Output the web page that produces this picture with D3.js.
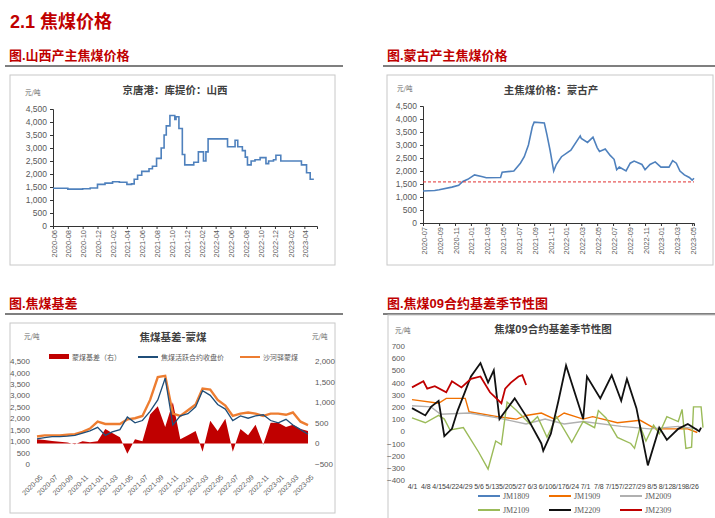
<!DOCTYPE html>
<html><head><meta charset="utf-8">
<script src="https://cdn.jsdelivr.net/npm/d3@7"></script>
<style>body{margin:0;background:#fff}svg{font-family:"Liberation Serif","Noto Sans CJK SC",serif}</style>
</head><body><svg id="c" width="715" height="518"></svg>
<script>
// chart 1: Shanxi price
var sxDates = ["2020-06-01","2020-08-01","2020-10-01","2020-11-01","2020-12-01","2021-01-01","2021-02-01","2021-03-01","2021-04-01","2021-04-20","2021-05-01","2021-05-15","2021-06-01","2021-07-01","2021-07-15","2021-08-01","2021-08-20","2021-09-01","2021-09-10","2021-09-25","2021-10-15","2021-10-20","2021-11-01","2021-11-15","2021-11-25","2022-01-01","2022-01-20","2022-02-10","2022-02-20","2022-03-01","2022-05-20","2022-06-20","2022-07-01","2022-07-20","2022-08-01","2022-08-10","2022-08-25","2022-09-10","2022-10-01","2022-10-25","2022-11-05","2022-11-25","2022-12-05","2022-12-25","2023-03-01","2023-03-20","2023-04-10","2023-04-25","2023-05-10"];
var sxValues = [1450,1420,1430,1460,1600,1650,1700,1680,1600,1620,1800,1950,2100,2200,2300,2600,3000,3500,3850,4250,4100,4200,3750,2750,2350,2450,2850,2500,2850,3350,3050,3300,3050,2900,2650,2350,2500,2550,2630,2400,2500,2550,2720,2500,2500,2350,2050,1800,1800];
// chart 2: Mongolia price
var mgDates = ["2020-07-01","2020-08-15","2020-09-01","2020-10-20","2020-11-15","2020-12-01","2020-12-20","2021-01-15","2021-02-15","2021-03-01","2021-04-25","2021-05-01","2021-06-15","2021-07-10","2021-07-25","2021-08-10","2021-08-25","2021-09-01","2021-10-10","2021-10-20","2021-11-01","2021-11-15","2021-11-25","2021-12-15","2022-01-20","2022-02-25","2022-03-01","2022-03-25","2022-04-15","2022-05-01","2022-05-10","2022-06-01","2022-06-20","2022-07-05","2022-07-15","2022-07-25","2022-08-20","2022-09-05","2022-09-20","2022-10-20","2022-11-01","2022-11-20","2022-12-10","2023-01-01","2023-02-01","2023-02-15","2023-03-01","2023-03-15","2023-04-01","2023-04-20","2023-05-01","2023-05-08"];
var mgValues = [1230,1250,1280,1380,1450,1600,1680,1850,1780,1740,1750,1950,2000,2300,2550,3000,3700,3880,3850,3400,2800,2000,2250,2550,2800,3350,3250,3100,3300,2900,2750,2850,2600,2450,2050,2150,2000,2300,2380,2250,2050,2250,2350,2150,2150,2400,2300,2000,1850,1750,1650,1720];
var mgRef = 1580;
// chart 3: basis
var bsMonths = ["2020-05","2020-06","2020-07","2020-08","2020-09","2020-10","2020-11","2020-12","2021-01","2021-02","2021-03","2021-04","2021-05","2021-06","2021-07","2021-08","2021-09","2021-10","2021-11","2021-12","2022-01","2022-02","2022-03","2022-04","2022-05","2022-06","2022-07","2022-08","2022-09","2022-10","2022-11","2022-12","2023-01","2023-02","2023-03","2023-04","2023-05"];
var shaheMg = [1200,1250,1250,1250,1280,1300,1400,1550,1850,1750,1750,1750,1950,2000,2100,2800,3800,3850,2200,2100,2350,2600,3300,3250,2800,2550,2100,2200,2250,2200,2100,2200,2200,2150,2250,1850,1700];
var futures = [1100,1150,1200,1200,1220,1250,1350,1450,1600,1250,1400,1500,2050,1800,1900,2300,2800,3750,1700,2100,2200,2500,3200,3000,2600,2400,1900,2100,2000,2100,2150,1900,1800,1950,1700,1500,1300];
var basis = [100,80,60,40,20,-20,50,30,50,350,250,150,-250,100,50,700,900,400,1000,100,200,300,-200,550,300,600,-200,350,200,450,-30,500,500,400,450,350,300];
// chart 4: seasonal basis of 09 contract
var seasonTicks = ["4/1","4/8","4/15","4/22","4/29","5/6","5/13","5/20","5/27","6/3","6/10","6/17","6/24","7/1","7/8","7/15","7/22","7/29","8/5","8/12","8/19","8/26"];
var jm1809 = [];
var jm1909 = [["4/1",260],["4/15",230],["4/19",270],["4/29",270],["5/1",160],["5/16",120],["5/26",100],["5/31",130],["6/8",150],["6/15",100],["6/20",150],["6/30",100],["7/5",120],["7/18",70],["7/30",90],["8/7",20],["8/24",20],["8/29",-10]];
var jm2009 = [["4/1",210],["4/11",200],["4/16",140],["5/1",150],["5/16",110],["5/31",60],["6/10",100],["6/20",60],["6/30",80],["7/20",40],["8/4",20],["8/19",40],["8/29",20]];
var jm2109 = [["4/1",110],["4/8",70],["4/15",130],["4/18",100],["4/21",10],["4/28",30],["5/6",-170],["5/11",-310],["5/15",-80],["5/18",-110],["5/21",240],["5/26",170],["6/2",60],["6/6",120],["6/11",-50],["6/16",120],["6/24",-90],["6/30",80],["7/6",30],["7/8",170],["7/12",110],["7/18",-50],["7/25",-100],["7/27",-140],["7/30",40],["8/2",-80],["8/6",50],["8/9",-20],["8/13",120],["8/19",80],["8/21",180],["8/23",-140],["8/26",-130],["8/27",200],["8/31",200],["9/1",30]];
var jm2209 = [["4/1",190],["4/8",130],["4/11",200],["4/15",250],["4/18",-40],["4/22",20],["4/25",170],["4/29",330],["5/2",450],["5/7",560],["5/11",400],["5/14",500],["5/17",100],["5/25",270],["6/1",100],["6/8",-100],["6/9",-160],["6/13",-20],["6/17",250],["6/21",540],["6/30",100],["7/2",450],["7/9",270],["7/15",460],["7/20",250],["7/23",430],["7/28",190],["8/3",-280],["8/9",30],["8/13",-70],["8/19",20],["8/24",60],["8/30",0],["8/31",30]];
var jm2309 = [["4/1",360],["4/7",410],["4/9",350],["4/13",370],["4/19",320],["4/22",410],["4/27",360],["5/2",430],["5/7",450],["5/12",320],["5/18",230],["5/20",350],["5/23",400],["5/27",450],["5/29",460],["5/31",380]];

var svg = d3.select("#c");
var red = "#C00000", fmt = d3.format(",");
var pd = d3.timeParse("%Y-%m-%d"), pm = d3.timeParse("%Y-%m"), ps = function(s){ return d3.timeParse("%Y/%m/%d")("2000/" + s); };

svg.append("text").attr("x", 10).attr("y", 28).attr("fill", red).attr("font-size", 18).attr("font-weight", "bold")
  .attr("font-family", "Liberation Sans,Noto Sans CJK SC").text("2.1 焦煤价格");

function header(x, y, w, t) {
  svg.append("text").attr("x", x + 4).attr("y", y).attr("fill", red).attr("font-size", 13).attr("font-weight", "bold")
    .attr("font-family", "Liberation Sans,Noto Sans CJK SC").text(t);
  svg.append("line").attr("x1", x).attr("x2", x + w).attr("y1", y + 6).attr("y2", y + 6).attr("stroke", "#000").attr("stroke-width", 1.2);
}
header(5, 60, 338, "图.山西产主焦煤价格");
header(383, 60, 332, "图.蒙古产主焦煤价格");
header(5, 308, 338, "图.焦煤基差");
header(383, 308, 332, "图.焦煤09合约基差季节性图");

function box(x, y, w, h) {
  svg.append("rect").attr("x", x).attr("y", y).attr("width", w).attr("height", h).attr("fill", "#fff").attr("stroke", "#c8c8c8");
}
function ctitle(x, y, t) {
  svg.append("text").attr("x", x).attr("y", y).attr("text-anchor", "middle").attr("font-size", 10.5).attr("font-weight", "bold")
    .attr("fill", "#404040").attr("font-family", "Noto Sans CJK SC").text(t);
}
function unit(x, y, anchor) {
  svg.append("text").attr("x", x).attr("y", y).attr("font-size", 6.5).attr("fill", "#666").attr("text-anchor", anchor || "start")
    .attr("font-family", "Noto Sans CJK SC").text("元/吨");
}
function styleAxis(g) {
  g.selectAll("text").attr("fill", "#595959").attr("font-size", 8.5);
  g.selectAll("path,line").attr("stroke", "#333");
}

// price chart helper
function priceChart(x0, x1, yTop, yBot, dates, vals, from, to, tickFrom, curve) {
  var x = d3.scaleTime().domain([pd(from), pd(to)]).range([x0, x1]);
  var y = d3.scaleLinear().domain([0, 4500]).range([yBot, yTop]);
  var ya = svg.append("g").attr("transform", "translate(" + x0 + ",0)")
    .call(d3.axisLeft(y).tickValues(d3.range(0, 4501, 500)).tickFormat(fmt).tickSize(3));
  styleAxis(ya);
  ya.selectAll("text").attr("font-family", "Liberation Sans");
  var ticks = d3.timeMonth.range(pd(tickFrom), pd(to), 2);
  var xa = svg.append("g").attr("transform", "translate(0," + yBot + ")")
    .call(d3.axisBottom(x).tickValues(ticks).tickFormat(d3.timeFormat("%Y-%m")).tickSize(3));
  styleAxis(xa);
  xa.selectAll("text").attr("transform", "rotate(-90)").attr("text-anchor", "end").attr("dx", "-4").attr("dy", "-3")
    .attr("font-size", 7.5).attr("font-family", "Liberation Sans");
  var pts = dates.map(function (d, i) { return [pd(d), vals[i]]; });
  svg.append("path").datum(pts).attr("fill", "none").attr("stroke", "#4F81BD").attr("stroke-width", 1.6)
    .attr("d", d3.line().x(function (d) { return x(d[0]); }).y(function (d) { return y(d[1]); }).curve(curve));
  return { x: x, y: y };
}

box(10, 75, 325, 190);
ctitle(175, 94, "京唐港：库提价：山西");
unit(25, 95);
priceChart(53, 317, 109, 226, sxDates, sxValues, "2020-06-01", "2023-05-23", "2020-06-01", d3.curveStepAfter);

box(387, 75, 326, 190);
ctitle(551, 94, "主焦煤价格：蒙古产");
unit(397, 91);
var c2 = priceChart(423, 694, 106, 223, mgDates, mgValues, "2020-07-01", "2023-05-08", "2020-07-01", d3.curveLinear);
svg.append("line").attr("x1", 423).attr("x2", 694).attr("y1", c2.y(mgRef)).attr("y2", c2.y(mgRef))
  .attr("stroke", "#E03030").attr("stroke-dasharray", "3,2").attr("stroke-width", 1);

// chart 3
box(10, 323, 325, 190);
ctitle(173, 341, "焦煤基差-蒙煤");
unit(24, 339); unit(312, 339);
var x3 = d3.scaleTime().domain([pm("2020-05"), pm("2023-05")]).range([37, 308]);
var yl = d3.scaleLinear().domain([0, 4500]).range([464, 361]);
var yr = d3.scaleLinear().domain([-500, 2000]).range([464, 361]);
var a3l = svg.append("g").attr("transform", "translate(33,0)").call(d3.axisLeft(yl).tickValues(d3.range(0, 4501, 500)).tickFormat(fmt).tickSize(0));
var a3r = svg.append("g").attr("transform", "translate(312,0)").call(d3.axisRight(yr).tickValues(d3.range(-500, 2001, 500)).tickFormat(fmt).tickSize(0));
[a3l, a3r].forEach(function (g) { styleAxis(g); g.select(".domain").remove(); g.selectAll("text").attr("font-size", 8); });
var xticks3 = bsMonths.filter(function (d, i) { return i % 2 == 0; }).map(pm);
var a3x = svg.append("g").attr("transform", "translate(0,472)").call(d3.axisBottom(x3).tickValues(xticks3).tickFormat(d3.timeFormat("%Y-%m")).tickSize(0));
styleAxis(a3x); a3x.select(".domain").remove();
a3x.selectAll("text").attr("transform", "rotate(-45)").attr("text-anchor", "end").attr("font-size", 7);
svg.append("path").datum(basis).attr("fill", red)
  .attr("d", d3.area().x(function (d, i) { return x3(pm(bsMonths[i])); }).y0(yr(0)).y1(function (d) { return yr(d); }));
svg.append("path").datum(shaheMg).attr("fill", "none").attr("stroke", "#ED7D31").attr("stroke-width", 2.4)
  .attr("d", d3.line().x(function (d, i) { return x3(pm(bsMonths[i])); }).y(function (d) { return yl(d); }));
svg.append("path").datum(futures).attr("fill", "none").attr("stroke", "#1F4E79").attr("stroke-width", 1.3)
  .attr("d", d3.line().x(function (d, i) { return x3(pm(bsMonths[i])); }).y(function (d) { return yl(d); }));
var leg3 = [["蒙煤基差（右）", red, "rect"], ["焦煤活跃合约收盘价", "#1F4E79", "line"], ["沙河驿蒙煤", "#ED7D31", "line"]];
var lx3 = [49, 138, 240];
leg3.forEach(function (l, i) {
  if (l[2] == "rect") svg.append("rect").attr("x", lx3[i]).attr("y", 354).attr("width", 20).attr("height", 5).attr("fill", l[1]);
  else svg.append("line").attr("x1", lx3[i]).attr("x2", lx3[i] + 20).attr("y1", 357).attr("y2", 357).attr("stroke", l[1]).attr("stroke-width", 2);
  svg.append("text").attr("x", lx3[i] + 23).attr("y", 360).attr("font-size", 7).attr("fill", "#595959").attr("font-family", "Noto Sans CJK SC").text(l[0]);
});

// chart 4
box(388, 315, 330, 210);
ctitle(553, 333, "焦煤09合约基差季节性图");
unit(395, 333);
var x4 = d3.scaleTime().domain([ps("4/1"), ps("9/1")]).range([412, 703]);
var y4 = d3.scaleLinear().domain([-400, 700]).range([480, 346]);
var a4y = svg.append("g").attr("transform", "translate(408,0)").call(d3.axisLeft(y4).tickValues(d3.range(-400, 701, 100)).tickSize(0));
styleAxis(a4y); a4y.select(".domain").remove(); a4y.selectAll("text").attr("font-size", 8);
var a4x = svg.append("g").attr("transform", "translate(0," + y4(-400) + ")").call(d3.axisBottom(x4).tickValues(seasonTicks.map(ps)).tickFormat(function (d, i) { return seasonTicks[i]; }).tickSize(0));
styleAxis(a4x); a4x.select(".domain").remove(); a4x.selectAll("text").attr("font-size", 7).attr("dy", "0.9em").attr("fill", "#404040");
var ser4 = [["JM1809", jm1809, "#4F81BD"], ["JM1909", jm1909, "#F07000"], ["JM2009", jm2009, "#B0B0B0"], ["JM2109", jm2109, "#9BBB59"], ["JM2209", jm2209, "#111"], ["JM2309", jm2309, red]];
var line4 = d3.line().x(function (d) { return x4(ps(d[0])); }).y(function (d) { return y4(d[1]); });
ser4.forEach(function (s) {
  svg.append("path").datum(s[1]).attr("fill", "none").attr("stroke", s[2]).attr("stroke-width", s[0] == "JM2309" || s[0] == "JM2209" ? 1.8 : 1.4).attr("d", line4);
});
ser4.forEach(function (s, i) {
  var lx = 478 + (i % 3) * 71, ly = i < 3 ? 496 : 510;
  svg.append("line").attr("x1", lx).attr("x2", lx + 22).attr("y1", ly).attr("y2", ly).attr("stroke", s[2]).attr("stroke-width", 2);
  svg.append("text").attr("x", lx + 25).attr("y", ly + 3).attr("font-size", 8).attr("fill", "#595959").text(s[0]);
});
</script></body></html>
